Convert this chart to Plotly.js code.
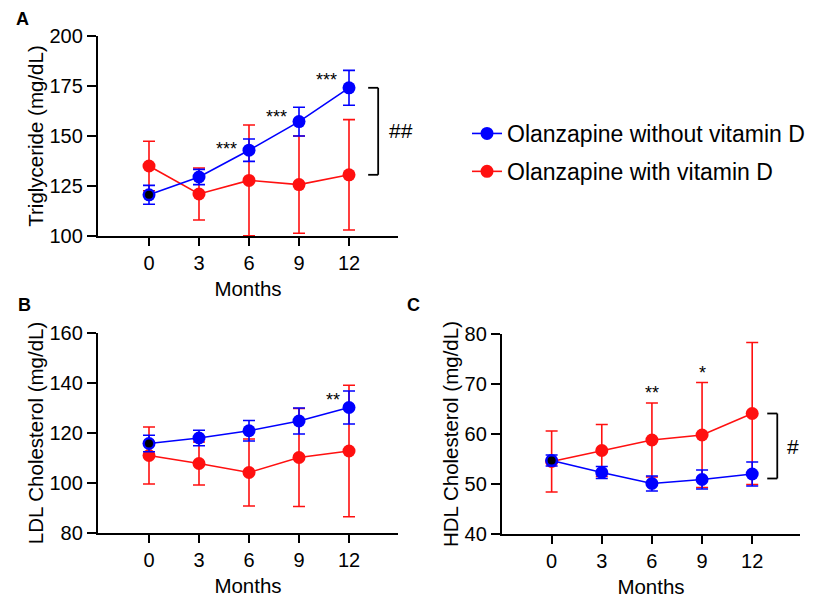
<!DOCTYPE html>
<html>
<head>
<meta charset="utf-8">
<script src="https://cdn.plot.ly/plotly-3.0.1.min.js"></script>
<style>html,body{margin:0;padding:0;background:#fff;}#chart{width:813px;height:598px;}</style>
</head>
<body>
<div id="chart"></div>
<script>
// ---------- data ----------
const months = [0, 3, 6, 9, 12];
const seriesNames = ["Olanzapine without vitamin D", "Olanzapine with vitamin D"];

// Panel A: Triglyceride (mg/dL)
const tgWithout    = [120.6, 129.5, 142.9, 157.2, 174.1];
const tgWithoutErr = [4.7, 3.8, 5.6, 7.2, 8.7];
const tgWith       = [135.0, 121.0, 127.8, 125.7, 130.6];
const tgWithErr    = [12.4, 13.0, 27.7, 24.3, 27.6];

// Panel B: LDL Cholesterol (mg/dL)
const ldlWithout    = [115.8, 118.0, 120.9, 124.8, 130.2];
const ldlWithoutErr = [3.3, 3.1, 4.1, 5.2, 6.6];
const ldlWith       = [111.0, 107.8, 104.2, 110.2, 112.8];
const ldlWithErr    = [11.4, 8.6, 13.4, 19.6, 26.3];

// Panel C: HDL Cholesterol (mg/dL)
const hdlWithout    = [54.7, 52.3, 50.1, 50.9, 52.0];
const hdlWithoutErr = [1.1, 1.2, 1.5, 1.9, 2.4];
const hdlWith       = [54.5, 56.7, 58.8, 59.8, 64.1];
const hdlWithErr    = [6.1, 5.2, 7.4, 10.5, 14.2];

// significance marks: [month index, label]
const sigA = [[2, "***"], [3, "***"], [4, "***"]];
const sigB = [[4, "**"]];
const sigC = [[2, "**"], [3, "*"]];
const groupSigA = "##";
const groupSigC = "#";

const yTicksA = [100, 125, 150, 175, 200];
const yTicksB = [80, 100, 120, 140, 160];
const yTicksC = [40, 50, 60, 70, 80];
const yTitles = ["Triglyceride (mg/dL)", "LDL Cholesterol (mg/dL)", "HDL Cholesterol (mg/dL)"];
const xTitle = "Months";
const panelLabels = ["A", "B", "C"];

// ---------- style ----------
const W = 813, H = 598;
const BLUE = "#0000ff", RED = "#ff1010";
const FONT = "Liberation Sans, Arial, Helvetica, sans-serif";
const fx = p => p / W, fy = p => 1 - p / H;

function lineTrace(y, err, color, xa, ya, name, show, rank) {
  return {
    x: months, y: y, type: "scatter", mode: "lines+markers",
    xaxis: xa, yaxis: ya, name: name, showlegend: show,
    legendgroup: name, legendrank: rank,
    line: {color: color, width: 1.6},
    marker: {color: color, size: 13},
    error_y: {type: "data", array: err, visible: true, color: color, thickness: 1.6, width: 6},
    hoverinfo: "skip"
  };
}
function dotTrace(y, xa, ya) {
  return {x: [months[0]], y: [y[0]], type: "scatter", mode: "markers", xaxis: xa, yaxis: ya,
    showlegend: false, marker: {color: "#000", size: 8}, hoverinfo: "skip"};
}

const traces = [
  lineTrace(tgWith, tgWithErr, RED, "x", "y", seriesNames[1], true, 2),
  lineTrace(tgWithout, tgWithoutErr, BLUE, "x", "y", seriesNames[0], true, 1),
  dotTrace(tgWithout, "x", "y"),
  lineTrace(ldlWith, ldlWithErr, RED, "x2", "y2", seriesNames[1], false, 2),
  lineTrace(ldlWithout, ldlWithoutErr, BLUE, "x2", "y2", seriesNames[0], false, 1),
  dotTrace(ldlWithout, "x2", "y2"),
  lineTrace(hdlWith, hdlWithErr, RED, "x3", "y3", seriesNames[1], false, 2),
  lineTrace(hdlWithout, hdlWithoutErr, BLUE, "x3", "y3", seriesNames[0], false, 1),
  dotTrace(hdlWithout, "x3", "y3")
];

const tickFont = {family: FONT, size: 20, color: "#000"};
const titleFont = {family: FONT, size: 20.5, color: "#000"};
function xAxis(domain, anchor, range) {
  return {domain: domain, anchor: anchor, range: range, tickvals: months, ticktext: months.map(String),
    showline: true, linecolor: "#000", linewidth: 2.2, ticks: "outside", ticklen: 8, tickwidth: 2.2, tickcolor: "#000",
    showgrid: false, zeroline: false, tickfont: tickFont, fixedrange: true,
    title: {text: xTitle, font: titleFont, standoff: 9}};
}
function yAxis(domain, anchor, range, ticks, title) {
  return {domain: domain, anchor: anchor, range: range, tickvals: ticks, ticktext: ticks.map(String),
    showline: true, linecolor: "#000", linewidth: 2.2, ticks: "outside", ticklen: 9, tickwidth: 2.2, tickcolor: "#000",
    showgrid: false, zeroline: false, tickfont: tickFont, fixedrange: true,
    title: {text: title, font: titleFont, standoff: 0}};
}

const annotations = [];
const starFont = {family: FONT, size: 18, color: "#000"};
sigA.forEach(([i, t]) => annotations.push({xref: "x", yref: "y", x: months[i], y: tgWithout[i] + tgWithoutErr[i],
  text: t, showarrow: false, font: starFont, xshift: -23, yshift: -10}));
sigB.forEach(([i, t]) => annotations.push({xref: "x2", yref: "y2", x: months[i], y: ldlWithout[i] + ldlWithoutErr[i],
  text: t, showarrow: false, font: starFont, xshift: -16, yshift: -9}));
sigC.forEach(([i, t]) => annotations.push({xref: "x3", yref: "y3", x: months[i], y: hdlWith[i] + hdlWithErr[i],
  text: t, showarrow: false, font: starFont, xshift: 0, yshift: 10}));

annotations.push({xref: "x", yref: "y", x: 14.5, y: (tgWithout[4] + tgWith[4]) / 2, text: groupSigA,
  showarrow: false, xshift: 10, yshift: 1, font: {family: FONT, size: 21, color: "#000"}});
annotations.push({xref: "x3", yref: "y3", x: 14.45, y: (hdlWith[4] + hdlWithout[4]) / 2, text: groupSigC,
  showarrow: false, yshift: -3, font: {family: FONT, size: 21, color: "#000"}});

const panelFont = {family: FONT, size: 18, color: "#000"};
[[0, 22, 19], [1, 24, 305], [2, 413, 305]].forEach(([k, px, py]) =>
  annotations.push({xref: "paper", yref: "paper", x: fx(px), y: fy(py), text: "<b>" + panelLabels[k] + "</b>",
    showarrow: false, font: panelFont, xanchor: "center", yanchor: "middle"}));

function bracket(xa, ya, x0, x1, yTop, yBot) {
  const l = {color: "#000", width: 1.8};
  return [
    {type: "line", xref: xa, yref: ya, x0: x0, x1: x1, y0: yTop, y1: yTop, line: l},
    {type: "line", xref: xa, yref: ya, x0: x1, x1: x1, y0: yTop, y1: yBot, line: l},
    {type: "line", xref: xa, yref: ya, x0: x0, x1: x1, y0: yBot, y1: yBot, line: l}
  ];
}
const shapes = [].concat(
  bracket("x", "y", 13.15, 13.75, tgWithout[4], tgWith[4]),
  bracket("x3", "y3", 12.9, 13.5, hdlWith[4], hdlWithout[4] - 0.9)
);

const layout = {
  width: W, height: H, paper_bgcolor: "#fff", plot_bgcolor: "#fff",
  margin: {l: 0, r: 0, t: 0, b: 0},
  font: {family: FONT, color: "#000"},
  xaxis: xAxis([fx(98), fx(398)], "y", [-3.06, 14.94]),
  yaxis: yAxis([fy(236), fy(36)], "x", [100, 200], yTicksA, yTitles[0]),
  xaxis2: xAxis([fx(98), fx(398)], "y2", [-3.06, 14.94]),
  yaxis2: yAxis([fy(533), fy(333)], "x2", [80, 160], yTicksB, yTitles[1]),
  xaxis3: xAxis([fx(502), fx(800)], "y3", [-2.97, 14.86]),
  yaxis3: yAxis([fy(534), fy(334)], "x3", [40, 80], yTicksC, yTitles[2]),
  showlegend: true,
  legend: {x: fx(467), y: fy(112), xanchor: "left", yanchor: "top", font: {family: FONT, size: 23, color: "#000"},
    traceorder: "grouped", tracegroupgap: 5, itemwidth: 30, bgcolor: "rgba(0,0,0,0)"},
  annotations: annotations, shapes: shapes
};

Plotly.newPlot("chart", traces, layout, {staticPlot: true, displayModeBar: false});
</script>
</body>
</html>
